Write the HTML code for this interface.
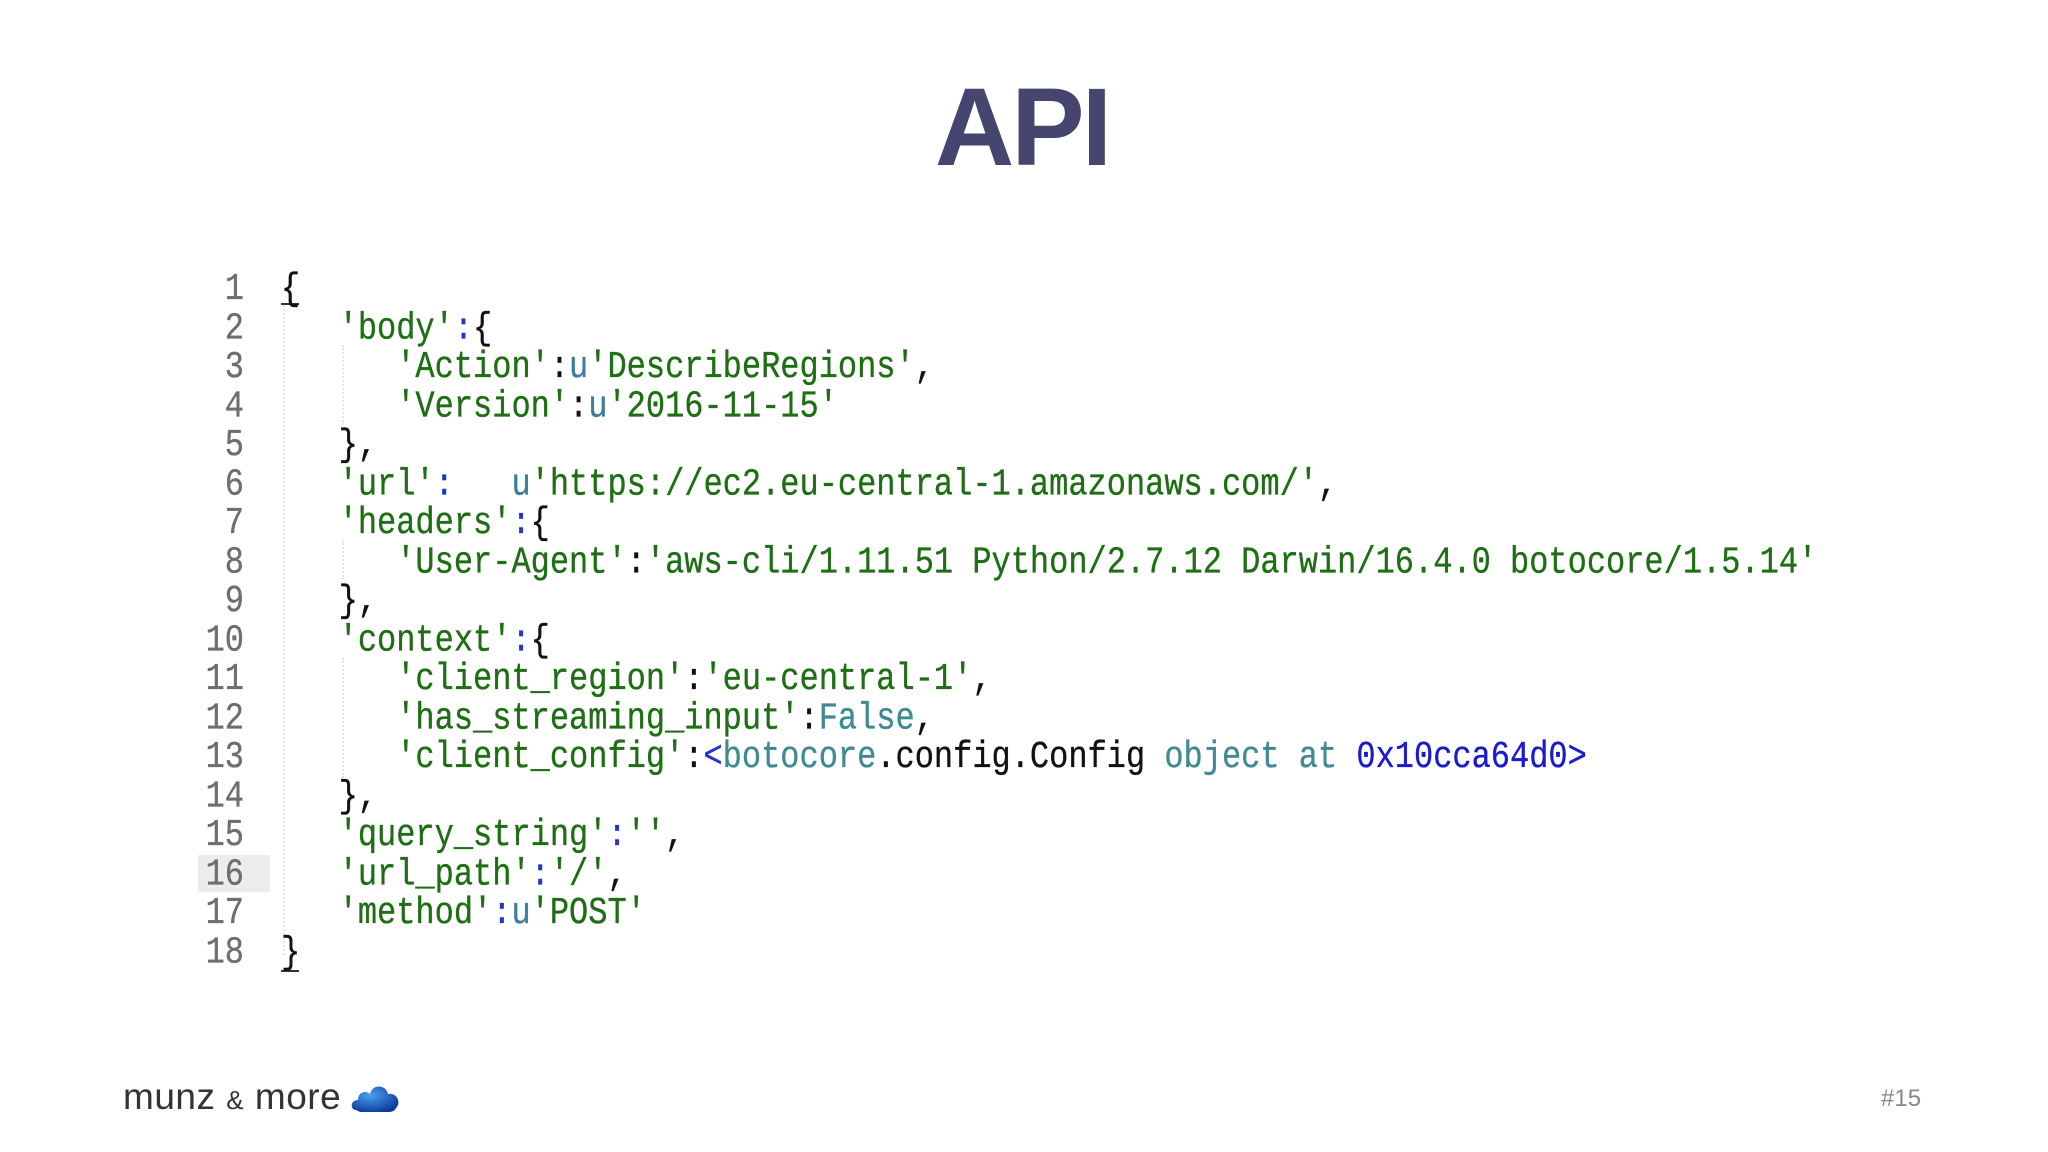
<!DOCTYPE html>
<html><head><meta charset="utf-8"><style>
html,body{margin:0;padding:0;background:#fff;}
body{width:2048px;height:1152px;position:relative;overflow:hidden;font-family:"Liberation Sans",sans-serif;}
.title{position:absolute;left:0;width:2044px;top:64px;text-align:center;font-size:110px;font-weight:bold;color:#45456f;letter-spacing:-3px;}
.hl{position:absolute;left:198px;top:855px;width:72px;height:37px;background:#ececec;}
.code{position:absolute;left:0;top:270px;transform:scaleY(1.2);transform-origin:0 0;font-family:"Liberation Mono",monospace;font-size:32px;line-height:32.5px;-webkit-text-stroke:0.3px;}
.ln{position:absolute;left:190px;width:54px;text-align:right;color:#6e6e6e;white-space:pre;}
.tx{position:absolute;left:281px;white-space:pre;color:#111;}
.k{color:#1e6e14}.u{color:#3d7f9a}.c{color:#2233cc}.t{color:#3f8a94}.b{color:#1a1ad0}
.g{position:absolute;border-left:2px dotted #e4e4e4;}
.foot{position:absolute;left:123px;top:1076px;font-size:37px;color:#333;letter-spacing:0.5px;}
.num{position:absolute;left:1881px;top:1085px;font-size:24px;color:#888;}
</style></head><body>
<div class="title">API</div>
<div class="hl"></div>
<div class="g" style="left:283px;top:305px;height:650px"></div>
<div class="g" style="left:342px;top:345px;height:80px"></div>
<div class="g" style="left:342px;top:540px;height:40px"></div>
<div class="g" style="left:342px;top:658px;height:120px"></div>
<div style="position:absolute;left:281px;top:303px;width:18px;height:2px;background:#333"></div>
<div style="position:absolute;left:281px;top:970px;width:18px;height:2px;background:#333"></div>
<div class="code">
<div class="ln" style="top:0">1
2
3
4
5
6
7
8
9
10
11
12
13
14
15
16
17
18</div>
<div class="tx" style="top:0">{
   <span class="k">'body'</span><span class="c">:</span>{
      <span class="k">'Action'</span>:<span class="u">u</span><span class="k">'DescribeRegions'</span>,
      <span class="k">'Version'</span>:<span class="u">u</span><span class="k">'2016-11-15'</span>
   },
   <span class="k">'url'</span><span class="c">:</span>   <span class="u">u</span><span class="k">'https://ec2.eu-central-1.amazonaws.com/'</span>,
   <span class="k">'headers'</span><span class="c">:</span>{
      <span class="k">'User-Agent'</span>:<span class="k">'aws-cli/1.11.51 Python/2.7.12 Darwin/16.4.0 botocore/1.5.14'</span>
   },
   <span class="k">'context'</span><span class="c">:</span>{
      <span class="k">'client_region'</span>:<span class="k">'eu-central-1'</span>,
      <span class="k">'has_streaming_input'</span>:<span class="t">False</span>,
      <span class="k">'client_config'</span>:<span class="c">&lt;</span><span class="t">botocore</span>.config.Config <span class="t">object at</span> <span class="b">0x10cca64d0&gt;</span>
   },
   <span class="k">'query_string'</span><span class="c">:</span><span class="k">''</span>,
   <span class="k">'url_path'</span><span class="c">:</span><span class="k">'/'</span>,
   <span class="k">'method'</span><span class="c">:</span><span class="u">u</span><span class="k">'POST'</span>
}</div>
</div>
<div class="foot">munz <span style="font-size:26px">&amp;</span> more</div>
<svg style="position:absolute;left:350px;top:1080px" width="52" height="36" viewBox="0 0 52 36">
<defs><radialGradient id="cg" cx="0.4" cy="0.35" r="0.7"><stop offset="0" stop-color="#4aa0f0"/><stop offset="1" stop-color="#0a3a9a"/></radialGradient></defs>
<path d="M6 30 C0 30 0 20 8 20 C8 12 16 10 20 14 C22 4 36 4 38 14 C46 12 52 22 46 28 C44 32 40 32 38 32 L10 32 Z" fill="url(#cg)"/>
</svg>
<div class="num">#15</div>
</body></html>
